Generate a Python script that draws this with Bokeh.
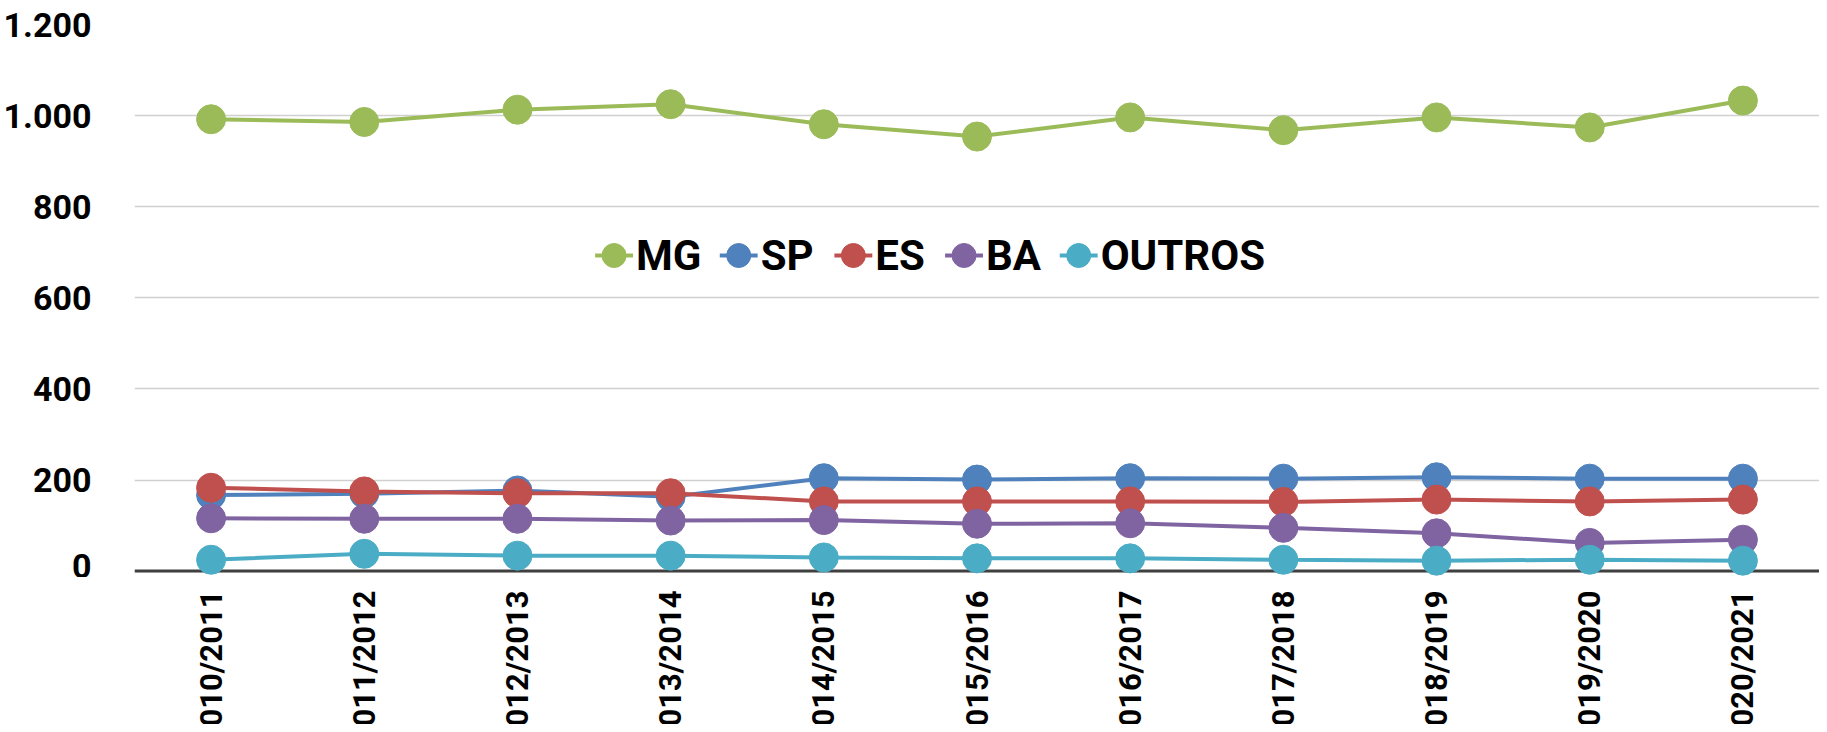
import math
from bokeh.plotting import figure
from bokeh.layouts import column
from bokeh.models import Range1d, FixedTicker, Span
from bokeh.core.properties import value
from bokeh.embed import file_html
from bokeh.resources import INLINE

categories = ["2010/2011", "2011/2012", "2012/2013", "2013/2014", "2014/2015",
              "2015/2016", "2016/2017", "2017/2018", "2018/2019", "2019/2020", "2020/2021"]
mg = [992, 986, 1013, 1025, 981, 954, 996, 968, 996, 974, 1033]
sp = [167, 170, 177, 163, 204, 201, 204, 203, 206, 203, 203]
es = [183, 175, 171, 171, 153, 153, 153, 152, 157, 153, 157]
ba = [116, 115, 115, 111, 112, 104, 105, 95, 83, 62, 69]
outros = [25, 38, 34, 34, 30, 28, 28, 25, 23, 25, 23]
series_names = ["MG", "SP", "ES", "BA", "OUTROS"]
series_values = [mg, sp, es, ba, outros]
colors = ["#9BBB59", "#4F81BD", "#C0504D", "#8064A2", "#4BACC6"]
y_ticks = [0, 200, 400, 600, 800, 1000, 1200]
y_tick_labels = ["0", "200", "400", "600", "800", "1.000", "1.200"]

W = 1819
BL, BT = 129, 24
FH = 553
H1 = BT + FH
H2 = 147
FW = W - BL
Y0, Y1 = -14, 1200

p = figure(width=W, height=H1, x_range=categories, y_range=Range1d(Y0, Y1),
           output_backend="svg", toolbar_location=None,
           min_border_left=BL, min_border_right=0, min_border_top=BT, min_border_bottom=0)
p.outline_line_color = None
p.background_fill_color = "white"
p.border_fill_color = "white"
p.xgrid.grid_line_color = None
p.ygrid.ticker = FixedTicker(ticks=y_ticks)
p.ygrid.grid_line_color = "#d0d0d0"
p.ygrid.grid_line_width = 1.3

p.yaxis.ticker = FixedTicker(ticks=y_ticks)
p.yaxis.major_label_overrides = {t: l for t, l in zip(y_ticks, y_tick_labels)}
p.yaxis.axis_line_color = None
p.yaxis.major_tick_line_color = None
p.yaxis.minor_tick_line_color = None
p.yaxis.major_label_standoff = 37
p.yaxis.major_label_text_font = "Roboto"
p.yaxis.major_label_text_font_style = "bold"
p.yaxis.major_label_text_font_size = "34px"
p.yaxis.major_label_text_color = "black"
p.xaxis.visible = False

p.add_layout(Span(location=0, dimension="width", line_color="#404040",
                  line_width=3, level="underlay"))

for name, vals, col in zip(series_names, series_values, colors):
    p.line(categories, vals, line_color=col, line_width=4)
    p.scatter(categories, vals, size=29, fill_color=col, line_color=col)

# legend placed by pixel offsets inside the frame, converted to data units
def fx(px):
    return px / FW * len(categories)

def fy(py):
    return Y0 + py / FH * (Y1 - Y0)

leg_x = [462, 587, 702, 813, 928]
leg_y = 322
for name, col, lx in zip(series_names, colors, leg_x):
    p.segment(x0=[fx(lx)], y0=[fy(leg_y)], x1=[fx(lx + 38)], y1=[fy(leg_y)],
              line_color=col, line_width=4)
    p.scatter(x=[fx(lx + 19)], y=[fy(leg_y)], size=24, fill_color=col, line_color=col)
    p.text(x=[fx(lx + 41)], y=[fy(leg_y)], text=[name], text_font=value("Roboto"),
           text_font_style="bold", text_font_size="42px", text_color="black",
           text_baseline="middle", text_align="left")

# category labels (vertical), drawn in a strip sharing the x range
q = figure(width=W, height=H2, x_range=p.x_range, y_range=Range1d(0, H2),
           output_backend="svg", toolbar_location=None,
           min_border_left=BL, min_border_right=0, min_border_top=0, min_border_bottom=0)
q.axis.visible = False
q.grid.grid_line_color = None
q.outline_line_color = None
q.background_fill_color = "white"
q.border_fill_color = "white"
q.text(x=categories, y=[H2 - 13] * len(categories), text=categories, angle=math.pi / 2,
       text_align="right", text_baseline="middle", text_font=value("Roboto"),
       text_font_style="bold", text_font_size="31px", text_color="black")

layout = column(p, q, spacing=0)
open("out.html", "w").write(file_html(layout, INLINE))
